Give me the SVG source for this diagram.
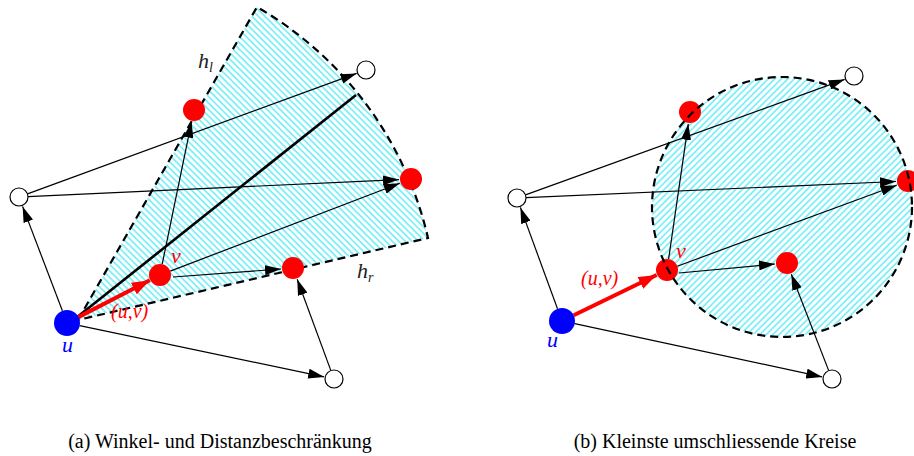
<svg xmlns="http://www.w3.org/2000/svg" width="914" height="456" viewBox="0 0 914 456">
<style>
.edge{stroke:#000;stroke-width:1.2;fill:none;marker-end:url(#ah)}
.red{stroke:#f00;stroke-width:4;fill:none;marker-end:url(#rah)}
.dash{fill:none;stroke:#000;stroke-width:2.2;stroke-dasharray:8,5}
.rn{fill:#f00}
.bn{fill:#00f}
.wn{fill:#fff;stroke:#000;stroke-width:1.2}
.lab{font-family:"Liberation Serif","Times New Roman",serif;font-style:italic;font-size:22px}
.cap{font-family:"Liberation Serif","Times New Roman",serif;font-size:20px;fill:#000;text-anchor:middle}
</style>
<defs>
<pattern id="hatchA" patternUnits="userSpaceOnUse" width="4.6" height="4.6" patternTransform="rotate(-45)">
<rect width="4.6" height="4.6" fill="#fff"/>
<line x1="1" y1="0" x2="1" y2="4.6" stroke="#2ee6f4" stroke-width="1.1"/>
</pattern>
<pattern id="hatchB" patternUnits="userSpaceOnUse" width="4.6" height="4.6" patternTransform="rotate(45)">
<rect width="4.6" height="4.6" fill="#fff"/>
<line x1="1" y1="0" x2="1" y2="4.6" stroke="#2ee6f4" stroke-width="1.1"/>
</pattern>
<marker id="ah" markerUnits="userSpaceOnUse" markerWidth="16" markerHeight="10" refX="16" refY="5" orient="auto">
<path d="M0,0 L16,5 L0,10 Z" fill="#000"/>
</marker>
<marker id="rah" markerUnits="userSpaceOnUse" markerWidth="18" markerHeight="13" refX="18" refY="6.5" orient="auto">
<path d="M0,0 L18,6.5 L0,13 Z" fill="#f00"/>
</marker>
</defs>

<!-- Panel a region -->
<g id="regionA">
<path d="M78,320 L257,7 A360,360 0 0 1 428,238 Z" fill="url(#hatchA)"/>
<path class="dash" d="M78,320 L257,7 A360,360 0 0 1 428,238 Z"/>
<line x1="76" y1="318" x2="356" y2="95" stroke="#000" stroke-width="2.6"/>
<text class="lab" x="198" y="68" fill="#222">h<tspan font-size="14px" dy="4">l</tspan></text>
<text class="lab" x="357" y="278" fill="#222">h<tspan font-size="14px" dy="4">r</tspan></text>
</g>

<!-- Panel b region -->
<g id="regionB">
<circle cx="782" cy="207" r="130" fill="url(#hatchB)"/>
</g>

<g id="connectors">
<line class="edge" x1="62.4" y1="310.8" x2="22.6" y2="206.4"/>
<line class="edge" x1="27.5" y1="193.9" x2="356.6" y2="73.4"/>
<line class="edge" x1="28" y1="196.6" x2="399" y2="179.6"/>
<line class="edge" x1="162.2" y1="264.2" x2="191.6" y2="121.7"/>
<line class="edge" x1="170.3" y1="271.1" x2="399.8" y2="183.3"/>
<line class="edge" x1="173" y1="277" x2="281" y2="269"/>
<line class="edge" x1="79.7" y1="325.7" x2="324.2" y2="376.9"/>
<line class="edge" x1="330.9" y1="370.6" x2="297.2" y2="279.3"/>
<line class="red" x1="75.9" y1="318.4" x2="149.8" y2="280.3"/>

<line class="edge" x1="557.5" y1="308.8" x2="520.4" y2="207.4"/>
<line class="edge" x1="525.5" y1="194.9" x2="844.6" y2="79.4"/>
<line class="edge" x1="526" y1="197.6" x2="896" y2="181.5"/>
<line class="edge" x1="668.6" y1="259.1" x2="688.3" y2="123.9"/>
<line class="edge" x1="677.3" y1="266.2" x2="896.7" y2="185.2"/>
<line class="edge" x1="679" y1="273" x2="775" y2="264"/>
<line class="edge" x1="574.7" y1="323.7" x2="822.2" y2="376.9"/>
<line class="edge" x1="828.7" y1="370.6" x2="791.3" y2="274.2"/>
<line class="red" x1="573.7" y1="315.3" x2="656.6" y2="275"/>
</g>

<!-- Panel a nodes -->
<g id="a_u"><circle class="bn" cx="67" cy="323" r="13"/><text class="lab" x="62" y="352" fill="#00f">u</text></g>
<g id="a_v"><circle class="rn" cx="160" cy="275" r="11"/><text class="lab" x="171" y="263" fill="#f00">v</text></g>
<g id="a_top"><circle class="rn" cx="194" cy="110" r="11"/></g>
<g id="a_right"><circle class="rn" cx="411" cy="179" r="11"/></g>
<g id="a_mid"><circle class="rn" cx="293" cy="268" r="11"/></g>
<g id="a_wleft"><circle class="wn" cx="19" cy="197" r="9"/></g>
<g id="a_wtop"><circle class="wn" cx="366" cy="70" r="9"/></g>
<g id="a_wbottom"><circle class="wn" cx="334" cy="379" r="9"/></g>
<text class="lab" x="111" y="318" fill="#f00" style="font-size:20px">(u,v)</text>

<!-- Panel b nodes -->
<g id="b_u"><circle class="bn" cx="562" cy="321" r="13"/><text class="lab" x="547" y="347" fill="#00f">u</text></g>
<g id="b_v"><circle class="rn" cx="667" cy="270" r="11"/><text class="lab" x="676" y="258" fill="#f00">v</text></g>
<g id="b_top"><circle class="rn" cx="690" cy="112" r="11"/></g>
<g id="b_right"><circle class="rn" cx="908" cy="181" r="11"/></g>
<g id="b_mid"><circle class="rn" cx="787" cy="263" r="11"/></g>
<g id="b_wleft"><circle class="wn" cx="517" cy="198" r="9"/></g>
<g id="b_wtop"><circle class="wn" cx="854" cy="76" r="9"/></g>
<g id="b_wbottom"><circle class="wn" cx="832" cy="379" r="9"/></g>
<text class="lab" x="581" y="285" fill="#f00" style="font-size:20px">(u,v)</text>
<circle class="dash" cx="782" cy="207" r="130"/>

<text class="cap" x="220" y="448">(a) Winkel- und Distanzbeschränkung</text>
<text class="cap" x="715" y="448">(b) Kleinste umschliessende Kreise</text>
</svg>
